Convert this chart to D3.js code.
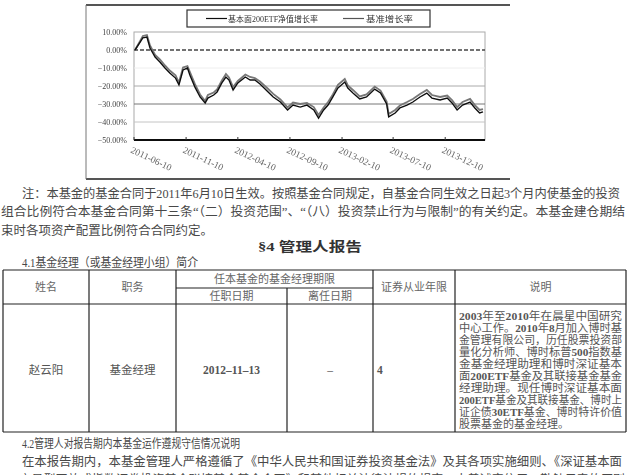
<!DOCTYPE html>
<html>
<head>
<meta charset="utf-8">
<script src="https://cdn.jsdelivr.net/npm/d3@7"></script>
<style>
  body { margin: 0; background: #fff; }
  svg { display: block; }
  text { font-family: "Liberation Serif", "Noto Sans CJK SC", serif; }
</style>
</head>
<body>
<svg id="page" width="631" height="475"></svg>
<script>
// 資料 (日期、基金淨值增長率、基準增長率)
const dates = ["2011-06-13","2011-06-28","2011-07-06","2011-07-18","2011-07-27","2011-08-11","2011-08-25","2011-09-09","2011-09-23","2011-10-10",
  "2011-10-20","2011-11-01","2011-11-14","2011-11-21","2011-12-06","2011-12-21","2012-01-05","2012-01-13","2012-01-30","2012-02-09",
  "2012-02-23","2012-03-06","2012-03-15","2012-03-27","2012-04-10","2012-05-02","2012-05-16","2012-05-30","2012-06-14","2012-07-05",
  "2012-07-23","2012-08-13","2012-09-03","2012-09-19","2012-10-10","2012-10-30","2012-11-19","2012-12-03","2012-12-18","2012-12-31",
  "2013-01-14","2013-01-29","2013-02-18","2013-02-27","2013-03-14","2013-04-03","2013-04-23","2013-05-17","2013-06-03","2013-06-21",
  "2013-06-27","2013-07-16","2013-07-30","2013-08-20","2013-09-06","2013-09-27","2013-10-17","2013-11-01","2013-11-25","2013-12-16",
  "2013-12-30","2014-01-14","2014-01-30","2014-02-21","2014-03-07","2014-03-21","2014-03-31"];
const fundVals = [0,4.4,6.7,7.2,1.1,-3.9,-6.7,-10.0,-12.8,-15.6,
  -19.4,-11.1,-10.0,-13.9,-20.6,-26.1,-29.4,-26.7,-25.0,-23.3,
  -18.3,-15.0,-16.7,-22.2,-18.3,-15.0,-16.7,-16.7,-18.9,-22.8,
  -26.1,-28.9,-33.3,-30.6,-31.7,-30.6,-33.3,-37.8,-33.3,-30.6,
  -26.1,-21.1,-17.8,-21.1,-23.9,-27.2,-26.1,-21.7,-23.9,-30.0,
  -37.2,-35.0,-32.2,-30.6,-28.9,-26.1,-23.9,-26.7,-27.8,-26.7,
  -29.4,-33.3,-30.6,-28.9,-32.2,-35.0,-34.4];
const benchVals = [0,5.0,7.8,8.3,2.5,-2.8,-5.2,-8.6,-11.4,-14.0,
  -18.1,-9.7,-8.9,-12.2,-19.0,-24.7,-28.3,-25.0,-23.6,-21.9,
  -16.9,-13.3,-15.3,-20.6,-17.2,-13.6,-15.0,-15.6,-17.5,-21.1,
  -24.4,-27.5,-31.9,-29.2,-30.0,-29.4,-31.7,-36.1,-31.9,-28.9,
  -24.7,-19.4,-16.1,-19.7,-22.2,-25.8,-24.7,-20.3,-22.5,-28.6,
  -35.6,-33.3,-30.8,-28.9,-27.2,-24.4,-22.2,-25.0,-26.1,-25.3,
  -27.8,-31.7,-28.9,-27.2,-30.6,-33.3,-32.8];
const yTicks = [10, 0, -10, -20, -30, -40, -50];
const xTicks = ["2011-06-10","2011-11-10","2012-04-10","2012-09-10","2013-02-10","2013-07-10","2013-12-10"];
const legendNames = ["基本面200ETF净值增长率", "基准增长率"];

// 文字
const noteLines = [
  "注：本基金的基金合同于2011年6月10日生效。按照基金合同规定，自基金合同生效之日起3个月内使基金的投资",
  "组合比例符合本基金合同第十三条“（二）投资范围”、“（八）投资禁止行为与限制”的有关约定。本基金建仓期结",
  "束时各项资产配置比例符合合同约定。"
];
const headTop = ["姓名", "职务", "任本基金的基金经理期限", "证券从业年限", "说明"];
const headSub = ["任职日期", "离任日期"];
const rowVals = ["赵云阳", "基金经理", "2012–11–13", "–", "4"];
const descLines = [
  "2003年至2010年在晨星中国研究",
  "中心工作。2010年8月加入博时基",
  "金管理有限公司，历任股票投资部",
  "量化分析师、博时标普500指数基",
  "金基金经理助理和博时深证基本",
  "面200ETF基金及其联接基金基金",
  "经理助理。现任博时深证基本面",
  "200ETF基金及其联接基金、博时上",
  "证企债30ETF基金、博时特许价值",
  "股票基金的基金经理。"
];
const tailLines = [
  "4.2管理人对报告期内本基金运作遵规守信情况说明",
  "在本报告期内，本基金管理人严格遵循了《中华人民共和国证券投资基金法》及其各项实施细则、《深证基本面",
  "200交易型开放式指数证券投资基金联接基金基金合同》和其他相关法律法规的规定，本着诚实信用、勤勉尽责的原则"
];

var svg = d3.select("#page");
svg.append("rect").attr("width", 631).attr("height", 475).attr("fill", "#fff");

var defs = svg.append("defs");
defs.append("filter").attr("id", "soft")
  .append("feGaussianBlur").attr("stdDeviation", 0.45);

// ---------- 圖表 ----------
var parse = d3.timeParse("%Y-%m-%d");
var x = d3.scaleTime().domain([parse("2011-06-10"), parse("2014-03-31")]).range([134, 483]);
var y = d3.scaleLinear().domain([-50, 10]).range([140, 32]);

var chart = svg.append("g").attr("filter", "url(#soft)");

// 外框
chart.append("line").attr("x1", 86).attr("x2", 510).attr("y1", 5).attr("y2", 5)
  .attr("stroke", "#555").attr("stroke-width", 1.8);
chart.append("line").attr("x1", 86).attr("x2", 510).attr("y1", 179).attr("y2", 179)
  .attr("stroke", "#555").attr("stroke-width", 1.8);
chart.append("line").attr("x1", 86).attr("x2", 86).attr("y1", 5).attr("y2", 179)
  .attr("stroke", "#777").attr("stroke-width", 1);

// 繪圖區
chart.append("rect").attr("x", 134).attr("y", y(10)).attr("width", 351).attr("height", y(-50) - y(10))
  .attr("fill", "none").attr("stroke", "#aaa").attr("stroke-width", 1);

// 格線
var gridColor = { "-10": "#eee", "-20": "#aaa", "-30": "#777", "-40": "#c4c4c4" };
yTicks.filter(v => v < 0 && v > -50).forEach(function (v) {
  chart.append("line").attr("x1", 134).attr("x2", 485).attr("y1", y(v)).attr("y2", y(v))
    .attr("stroke", gridColor[v]).attr("stroke-width", 1);
});
chart.append("line").attr("x1", 134).attr("x2", 485).attr("y1", y(0)).attr("y2", y(0))
  .attr("stroke", "#444").attr("stroke-width", 1.4).attr("stroke-dasharray", "4,2");

// y 軸文字
chart.selectAll(".ylab").data(yTicks).enter().append("text")
  .attr("x", 127).attr("y", d => y(d) + 3)
  .attr("text-anchor", "end")
  .style("font-size", "8px").style("fill", "#444")
  .text(d => d3.format(".2f")(d) + "%");

// x 軸
chart.append("line").attr("x1", 134).attr("x2", 485).attr("y1", y(-50)).attr("y2", y(-50))
  .attr("stroke", "#111").attr("stroke-width", 2);
xTicks.forEach(function (t) {
  var px = x(parse(t));
  chart.append("line").attr("x1", px).attr("x2", px).attr("y1", y(-50)).attr("y2", y(-50) - 3)
    .attr("stroke", "#333");
  chart.append("text")
    .attr("transform", "translate(" + (px - 1) + ",146) rotate(25)")
    .attr("y", 7)
    .style("font-size", "9.5px").style("fill", "#666")
    .text(t);
});

// 線
var pts = dates.map(d => parse(d));
var line = d3.line().x((d, i) => x(pts[i])).y(d => y(d));
chart.append("path").attr("d", line(benchVals))
  .attr("fill", "none").attr("stroke", "#777").attr("stroke-width", 1.8);
chart.append("path").attr("d", line(fundVals))
  .attr("fill", "none").attr("stroke", "#111").attr("stroke-width", 1.4);

// 圖例
chart.append("rect").attr("x", 187).attr("y", 10).attr("width", 243).attr("height", 17)
  .attr("fill", "#fff").attr("stroke", "#333").attr("stroke-width", 1.2);
chart.append("line").attr("x1", 206).attr("x2", 227).attr("y1", 18.5).attr("y2", 18.5)
  .attr("stroke", "#111").attr("stroke-width", 1.2);
chart.append("text").attr("x", 228).attr("y", 21.5)
  .attr("textLength", 90).attr("lengthAdjust", "spacingAndGlyphs")
  .style("font-size", "8px").style("fill", "#333").text(legendNames[0]);
chart.append("line").attr("x1", 343).attr("x2", 364).attr("y1", 18.5).attr("y2", 18.5)
  .attr("stroke", "#555").attr("stroke-width", 1.2);
chart.append("text").attr("x", 366).attr("y", 21.5)
  .attr("textLength", 47).attr("lengthAdjust", "spacingAndGlyphs")
  .style("font-size", "8.5px").style("fill", "#333").text(legendNames[1]);

// ---------- 文字 ----------
var page = svg.append("g").style("fill", "#484848");
page.append("text").attr("x", 22).attr("y", 197.5)
  .attr("textLength", 598).attr("lengthAdjust", "spacingAndGlyphs")
  .style("font-size", "12.5px").text(noteLines[0]);
page.append("text").attr("x", 1).attr("y", 216)
  .attr("textLength", 624).attr("lengthAdjust", "spacingAndGlyphs")
  .style("font-size", "12.5px").text(noteLines[1]);
page.append("text").attr("x", 1).attr("y", 234.5)
  .attr("textLength", 212).attr("lengthAdjust", "spacingAndGlyphs")
  .style("font-size", "12.5px").text(noteLines[2]);

page.append("text").attr("x", 258).attr("y", 250.5)
  .attr("textLength", 104).attr("lengthAdjust", "spacingAndGlyphs")
  .style("font-size", "13px").style("font-weight", "bold").style("fill", "#333")
  .text("§4  管理人报告");

page.append("text").attr("x", 22).attr("y", 266.5)
  .attr("textLength", 176).attr("lengthAdjust", "spacingAndGlyphs")
  .style("font-size", "12px").text("4.1基金经理（或基金经理小组）简介");

// ---------- 表格 ----------
var colX = [3, 89, 176, 287, 373, 455, 626];
var rowY = { top: 270, mid: 288, head: 304, bottom: 432 };
var tbl = svg.append("g");
var lineStyle = sel => sel.attr("stroke", "#222").attr("stroke-width", 1.2);

[rowY.top, rowY.head, rowY.bottom].forEach(function (yy) {
  tbl.append("line").attr("x1", colX[0]).attr("x2", colX[6]).attr("y1", yy).attr("y2", yy).call(lineStyle);
});
tbl.append("line").attr("x1", colX[2]).attr("x2", colX[4]).attr("y1", rowY.mid).attr("y2", rowY.mid).call(lineStyle);
colX.forEach(function (cx, i) {
  var y1 = (i === 3) ? rowY.mid : rowY.top;
  tbl.append("line").attr("x1", cx).attr("x2", cx).attr("y1", y1).attr("y2", rowY.bottom).call(lineStyle);
});

var headCenters = [
  [(colX[0] + colX[1]) / 2, 291],
  [(colX[1] + colX[2]) / 2, 291],
  [(colX[2] + colX[4]) / 2, 283],
  [(colX[4] + colX[5]) / 2, 291],
  [(colX[5] + colX[6]) / 2, 291]
];
headTop.forEach(function (t, i) {
  tbl.append("text").attr("x", headCenters[i][0]).attr("y", headCenters[i][1])
    .attr("text-anchor", "middle").style("font-size", "11px").style("fill", "#666").text(t);
});
headSub.forEach(function (t, i) {
  tbl.append("text").attr("x", (colX[2 + i] + colX[3 + i]) / 2).attr("y", 300)
    .attr("text-anchor", "middle").style("font-size", "11px").style("fill", "#666").text(t);
});

rowVals.forEach(function (t, i) {
  var tx = i < 4 ? (colX[i] + colX[i + 1]) / 2 : colX[4] + 4;
  tbl.append("text").attr("x", tx).attr("y", 374)
    .attr("text-anchor", i < 4 ? "middle" : "start")
    .style("font-size", "11.5px").style("fill", "#555")
    .style("font-weight", i === 2 || i === 4 ? "bold" : "normal")
    .text(t);
});

descLines.forEach(function (t, i) {
  var tx = tbl.append("text").attr("x", colX[5] + 4).attr("y", 320 + i * 12)
    .style("font-size", "11px").style("fill", "#555");
  if (i < descLines.length - 1) tx.attr("textLength", 163).attr("lengthAdjust", "spacingAndGlyphs");
  // 數字粗體
  t.split(/([0-9A-Z]+)/).forEach(function (part) {
    if (!part) return;
    tx.append("tspan").style("font-weight", /[0-9A-Z]/.test(part) ? "bold" : "normal").text(part);
  });
});

// ---------- 下方文字 ----------
page.append("text").attr("x", 22).attr("y", 447.5)
  .attr("textLength", 218).attr("lengthAdjust", "spacingAndGlyphs")
  .style("font-size", "12px").text(tailLines[0]);
page.append("text").attr("x", 22).attr("y", 465.5)
  .attr("textLength", 600).attr("lengthAdjust", "spacingAndGlyphs")
  .style("font-size", "12.5px").text(tailLines[1]);
page.append("text").attr("x", 1).attr("y", 484)
  .attr("textLength", 624).attr("lengthAdjust", "spacingAndGlyphs")
  .style("font-size", "12.5px").text(tailLines[2]);
</script>
</body>
</html>
